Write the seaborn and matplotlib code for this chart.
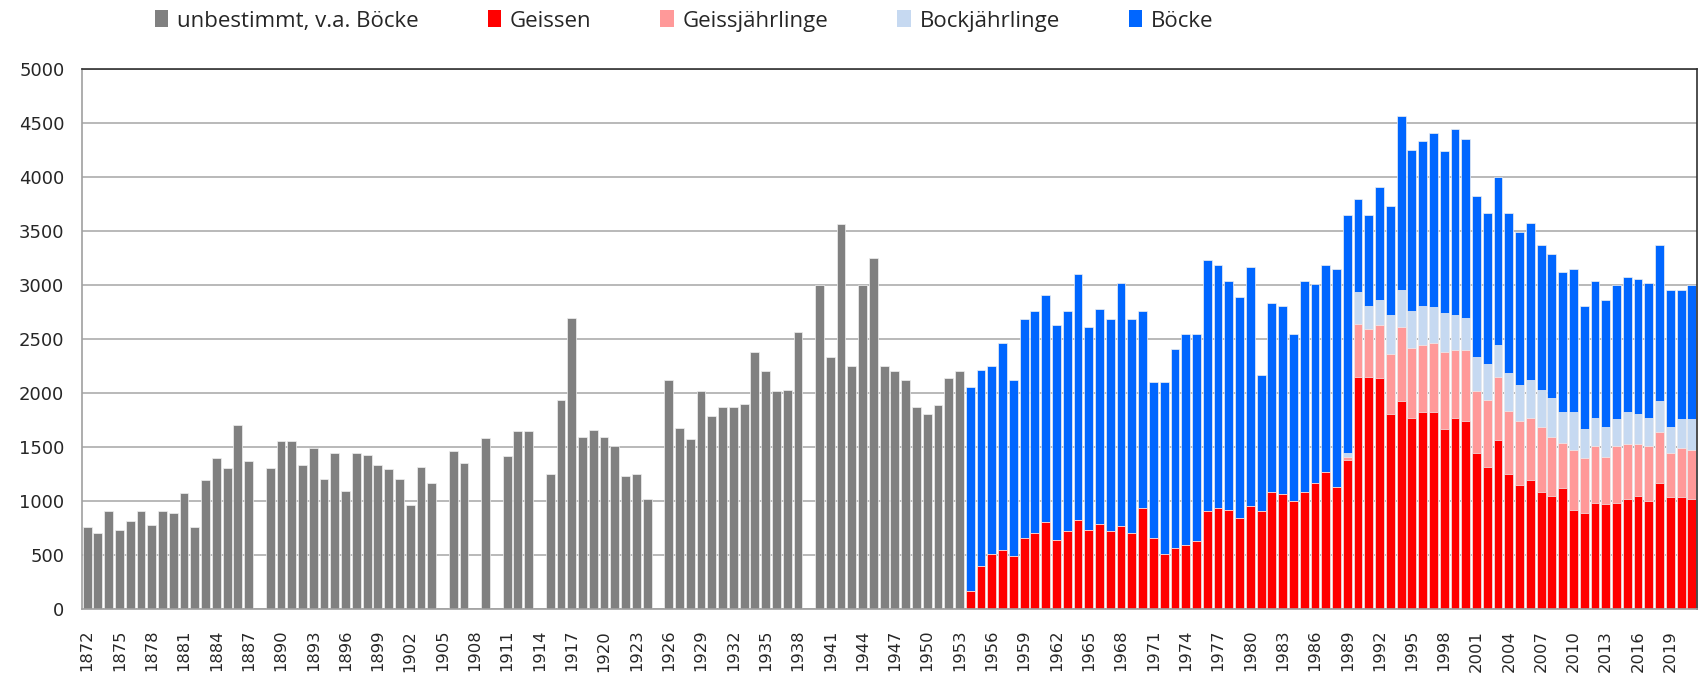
#Import Libraries:

import matplotlib
matplotlib.use("Agg")
import matplotlib.pyplot as plt
from matplotlib.patches import Patch
import seaborn as sns
import pandas as pd
import numpy as np

#Categories: one bar per year
years = [str(y) for y in range(1872, 2022)]
years_early = years[:82]   #1872-1953, only total counts
years_late = years[82:]    #1954-2021, split by class

#unbestimmt, v.a. Böcke (None = no data that year)
unbestimmt = [760, 700, 910, 730, 810, 910, 780, 910,             #1872-1879
              890, 1070, 760, 1190, 1400, 1300, 1700, 1370, None, 1300,   #1880-1889
              1550, 1550, 1330, 1490, 1200, 1445, 1090, 1445, 1425, 1330,  #1890-1899
              1295, 1200, 960, 1310, 1170, None, 1460, 1350, None, 1580,   #1900-1909
              None, 1415, 1645, 1645, None, 1250, 1935, 2690, 1590, 1655,  #1910-1919
              1590, 1510, 1230, 1245, 1020, None, 2115, 1675, 1575, 2020,  #1920-1929
              1785, 1870, 1870, 1900, 2380, 2200, 2020, 2030, 2560, None,  #1930-1939
              3000, 2330, 3560, 2250, 3000, 3250, 2250, 2200, 2115, 1870,  #1940-1949
              1805, 1885, 2135, 2200]                                      #1950-1953

#Geissen 1954-2021
geissen = [165, 400, 510, 545, 490, 655,                       #1954-1959
           705, 805, 640, 720, 820, 735, 790, 720, 770, 705,   #1960-1969
           935, 655, 510, 560, 590, 625, 905, 935, 920, 840,   #1970-1979
           950, 905, 1080, 1065, 1000, 1080, 1165, 1265, 1130, 1380,  #1980-1989
           2150, 2150, 2135, 1805, 1920, 1770, 1820, 1820, 1670, 1770,  #1990-1999
           1740, 1445, 1315, 1560, 1250, 1150, 1195, 1080, 1050, 1115,  #2000-2009
           920, 885, 985, 970, 985, 1015, 1050, 1000, 1165, 1035,      #2010-2019
           1035, 1015]                                                 #2020-2021

#Geissjährlinge 1954-2021
geissjaehrlinge = [0, 0, 0, 0, 0, 0,
                   0, 0, 0, 0, 0, 0, 0, 0, 0, 0,
                   0, 0, 0, 0, 0, 0, 0, 0, 0, 0,
                   0, 0, 0, 0, 0, 0, 0, 0, 0, 30,
                   490, 440, 490, 555, 690, 645, 625, 645, 710, 625,
                   655, 570, 620, 590, 585, 590, 575, 605, 540, 425,
                   555, 510, 525, 440, 525, 510, 475, 510, 475, 410,
                   455, 460]

#Bockjährlinge 1954-2021
bockjaehrlinge = [0, 0, 0, 0, 0, 0,
                  0, 0, 0, 0, 0, 0, 0, 0, 0, 0,
                  0, 0, 0, 0, 0, 0, 0, 0, 0, 0,
                  0, 0, 0, 0, 0, 0, 0, 0, 0, 35,
                  295, 215, 230, 360, 345, 340, 360, 325, 360, 325,
                  295, 315, 330, 295, 345, 330, 345, 345, 360, 280,
                  345, 275, 260, 275, 245, 295, 280, 260, 280, 240,
                  265, 280]

#Böcke 1954-2021
boecke = [1885, 1815, 1740, 1920, 1625, 2025,
          2055, 2100, 1985, 2040, 2280, 1875, 1985, 1960, 2250, 1975,
          1825, 1445, 1590, 1850, 1955, 1920, 2325, 2250, 2115, 2050,
          2215, 1260, 1755, 1740, 1545, 1955, 1840, 1920, 2020, 2200,
          855, 840, 1050, 1005, 1605, 1495, 1525, 1610, 1495, 1725,
          1660, 1495, 1395, 1555, 1480, 1415, 1460, 1335, 1330, 1295,
          1330, 1135, 1265, 1170, 1240, 1250, 1245, 1250, 1445, 1270,
          1200, 1245]

series_names = ["unbestimmt, v.a. Böcke", "Geissen", "Geissjährlinge", "Bockjährlinge", "Böcke"]
series_colors = ["#808080", "#FF0000", "#FF9999", "#C6D9F1", "#0066FF"]


#This function draws one bar series on the shared categorical axis
def draw_bars(ax, x, y, color):
    df = pd.DataFrame({"year": x, "value": np.array(y, dtype=float)})
    sns.barplot(data=df, x="year", y="value", order=years, color=color,
                saturation=1, width=0.82, edgecolor="#f0f0f0", linewidth=0.5,
                errorbar=None, ax=ax)


sns.set_style("white")
plt.rcParams["font.family"] = ["DejaVu Sans"]

fig = plt.figure(figsize=(17.04, 6.74), dpi=100)
ax = fig.add_axes([81.7 / 1704, 1 - 609 / 674, (1697.3 - 81.7) / 1704, (609 - 68.6) / 674])

#Stacked bars: draw the cumulative sums from the top down so they overlay
c1 = np.array(geissen, dtype=float)
c2 = c1 + np.array(geissjaehrlinge)
c3 = c2 + np.array(bockjaehrlinge)
c4 = c3 + np.array(boecke)

draw_bars(ax, years_early, unbestimmt, series_colors[0])
draw_bars(ax, years_late, c4, series_colors[4])
draw_bars(ax, years_late, c3, series_colors[3])
draw_bars(ax, years_late, c2, series_colors[2])
draw_bars(ax, years_late, c1, series_colors[1])

#Axes, grid and ticks
ax.set_xlim(-0.5, len(years) - 0.5)
ax.set_ylim(0, 5000)
ax.set_yticks(range(0, 5001, 500))
ax.set_xlabel("")
ax.set_ylabel("")
ax.set_axisbelow(True)
ax.grid(axis="y", color="#a6a6a6", linewidth=1.1)

label_pos = list(range(0, len(years), 3))
ax.set_xticks(label_pos)
ax.set_xticklabels([years[i] for i in label_pos], rotation=90, fontsize=11.8)
ax.set_xticks(np.arange(-0.5, len(years), 1), minor=True)
ax.tick_params(axis="x", which="major", length=0, pad=15)
ax.tick_params(axis="x", which="minor", length=6.5, width=1.1, color="#a0a0a0")
ax.tick_params(axis="y", length=6.5, width=1.1, color="#a0a0a0", pad=6, labelsize=13)

for side in ["left", "bottom"]:
    ax.spines[side].set_color("#a0a0a0")
    ax.spines[side].set_linewidth(1.2)
for side in ["top", "right"]:
    ax.spines[side].set_visible(True)
    ax.spines[side].set_color("#303030")
    ax.spines[side].set_linewidth(1.2)

#Legend above the plot
handles = [Patch(facecolor=c, edgecolor="none") for c in series_colors]
fig.legend(handles, series_names, loc="center left",
           bbox_to_anchor=(155 / 1704, 1 - 21 / 674), ncol=5, frameon=False,
           prop={"family": ["Open Sans", "DejaVu Sans"], "size": 16},
           handlelength=0.6, handleheight=0.8, handletextpad=0.4,
           columnspacing=3.1, borderaxespad=0, borderpad=0)

fig.savefig("out.png", dpi=100)
